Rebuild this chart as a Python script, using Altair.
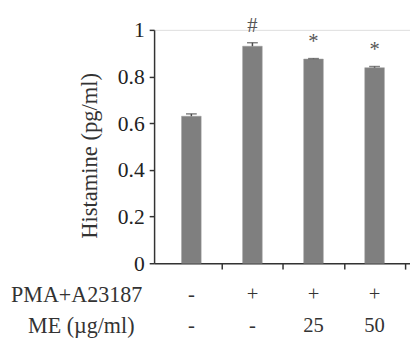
import altair as alt
import pandas as pd

# data
groups = [1, 2, 3, 4]
means = [0.630, 0.930, 0.875, 0.838]
errors = [0.010, 0.015, 0.002, 0.005]
marks = ["", "#", "*", "*"]
row1 = ["-", "+", "+", "+"]
row2 = ["-", "-", "25", "50"]
row_labels = ["PMA+A23187", "ME (\u00b5g/ml)"]
y_ticks = [0, 0.2, 0.4, 0.6, 0.8, 1.0]
x_ticks = [1.5, 2.5, 3.5, 4.5]

df = pd.DataFrame({
    "g": groups,
    "mean": means,
    "err": errors,
    "top": [m + e for m, e in zip(means, errors)],
    "mark": marks,
    "r1": row1,
    "r2": row2,
})

FONT = "Liberation Serif"
AX = "#333333"

x = alt.X("g:Q", scale=alt.Scale(domain=[0.47, 4.5], nice=False, zero=False),
          axis=alt.Axis(values=x_ticks, labels=False, title=None, grid=False,
                        domainColor=AX, tickColor=AX, domainWidth=1.5, tickWidth=1.5,
                        tickSize=6))
y = alt.Y("mean:Q", scale=alt.Scale(domain=[0, 1], nice=False),
          axis=alt.Axis(values=y_ticks, grid=False, title="Histamine  (pg/ml)",
                        labelExpr="datum.value == 0 ? '0' : datum.value == 1 ? '1' : format(datum.value, '.1f')",
                        labelFont=FONT, labelFontSize=22, labelColor="#222222", labelPadding=5,
                        titleFont=FONT, titleFontSize=23, titleFontWeight="normal", titleColor="#333333",
                        titleX=-66, titleY=128, titleAngle=270, titleAlign="center", titleBaseline="middle",
                        domainColor=AX, tickColor=AX, domainWidth=1.5, tickWidth=1.5, tickSize=5))

base = alt.Chart(df)

bars = base.mark_bar(color="#7f7f7f", size=20, stroke="#9a9a9a", strokeWidth=0.5).encode(x=x, y=y)

stem = base.mark_rule(color="#4d4d4d", strokeWidth=1.5).encode(
    x="g:Q", y="mean:Q", y2="top:Q")
cap = base.mark_tick(color="#4d4d4d", size=11, thickness=1.5, orient="horizontal").encode(
    x="g:Q", y="top:Q")

sig = base.mark_text(font=FONT, fontSize=21, color="#555555", baseline="alphabetic", dy=-11).encode(
    x="g:Q", y="top:Q", text="mark:N")

t1 = base.mark_text(font=FONT, fontSize=21, color="#333333", baseline="middle").encode(
    x="g:Q", y=alt.value(271), text="r1:N")
t2 = base.mark_text(font=FONT, fontSize=21, color="#333333", baseline="middle").encode(
    x="g:Q", y=alt.value(302), text="r2:N")

lab_df = pd.DataFrame({"label": row_labels, "row": [0, 1]})
lab1 = alt.Chart(lab_df).transform_filter("datum.row == 0").mark_text(
    font=FONT, fontSize=22.5, color="#333333", baseline="middle", align="right").encode(
    x=alt.value(-12), y=alt.value(271), text="label:N")
lab2 = alt.Chart(lab_df).transform_filter("datum.row == 1").mark_text(
    font=FONT, fontSize=22.5, color="#333333", baseline="middle", align="right").encode(
    x=alt.value(-20), y=alt.value(302), text="label:N")

chart = alt.layer(bars, stem, cap, sig, t1, t2, lab1, lab2).properties(
    width=261, height=238,
    autosize=alt.AutoSizeParams(type="none"),
    padding={"left": 149, "top": 19, "right": 0, "bottom": 76},
).configure_view(stroke=None).configure(background="white")

chart.save("out.html", embed_options={"renderer": "svg", "actions": False})
